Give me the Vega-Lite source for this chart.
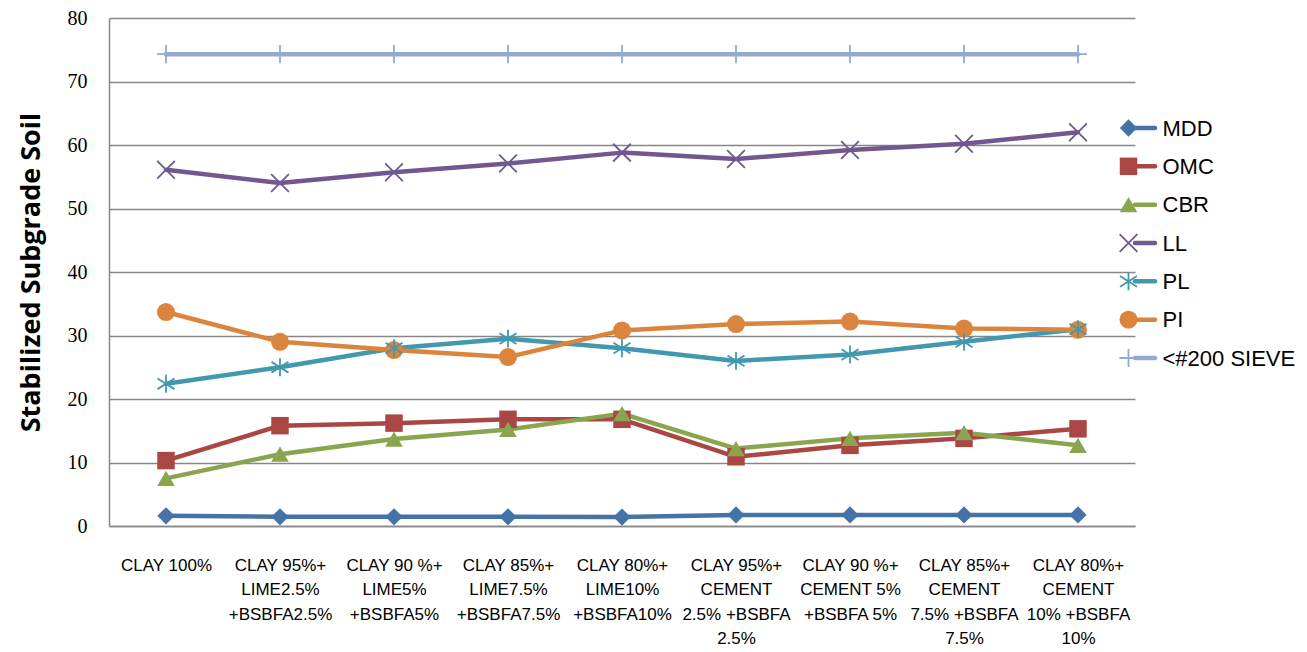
{
  "$schema": "https://vega.github.io/schema/vega-lite/v6.json",
  "background": "white",
  "padding": {"left": 17, "top": 8, "right": 0, "bottom": 0},
  "spacing": 0,
  "bounds": "flush",
  "config": {"view": {"stroke": null}},
  "datasets": {
    "main": [
      {"mix": "CLAY 100%", "MDD": 1.6, "OMC": 10.3, "CBR": 7.5, "LL": 56.1, "PL": 22.4, "PI": 33.7, "<#200 SIEVE": 74.3},
      {"mix": "CLAY  95%+|LIME2.5%|+BSBFA2.5%", "MDD": 1.45, "OMC": 15.8, "CBR": 11.3, "LL": 54.0, "PL": 25.0, "PI": 29.0, "<#200 SIEVE": 74.3},
      {"mix": "CLAY  90 %+|LIME5%|+BSBFA5%", "MDD": 1.45, "OMC": 16.2, "CBR": 13.7, "LL": 55.7, "PL": 28.0, "PI": 27.7, "<#200 SIEVE": 74.3},
      {"mix": "CLAY  85%+|LIME7.5%|+BSBFA7.5%", "MDD": 1.45, "OMC": 16.8, "CBR": 15.2, "LL": 57.1, "PL": 29.5, "PI": 26.6, "<#200 SIEVE": 74.3},
      {"mix": "CLAY 80%+|LIME10%|+BSBFA10%", "MDD": 1.4, "OMC": 16.8, "CBR": 17.7, "LL": 58.8, "PL": 28.0, "PI": 30.8, "<#200 SIEVE": 74.3},
      {"mix": "CLAY 95%+|CEMENT|2.5% +BSBFA|2.5%", "MDD": 1.75, "OMC": 10.9, "CBR": 12.2, "LL": 57.8, "PL": 26.0, "PI": 31.8, "<#200 SIEVE": 74.3},
      {"mix": "CLAY 90 %+|CEMENT  5%|+BSBFA 5%", "MDD": 1.75, "OMC": 12.7, "CBR": 13.8, "LL": 59.2, "PL": 27.0, "PI": 32.2, "<#200 SIEVE": 74.3},
      {"mix": "CLAY  85%+|CEMENT|7.5% +BSBFA|7.5%", "MDD": 1.75, "OMC": 13.8, "CBR": 14.7, "LL": 60.2, "PL": 29.0, "PI": 31.1, "<#200 SIEVE": 74.3},
      {"mix": "CLAY  80%+|CEMENT|10% +BSBFA|10%", "MDD": 1.75, "OMC": 15.3, "CBR": 12.7, "LL": 62.0, "PL": 31.0, "PI": 30.9, "<#200 SIEVE": 74.3}
    ],
    "legend": [
      {"series": "MDD"}, {"series": "OMC"}, {"series": "CBR"}, {"series": "LL"},
      {"series": "PL"}, {"series": "PI"}, {"series": "<#200 SIEVE"}
    ]
  },
  "hconcat": [
    {
      "width": 1026,
      "height": 508,
      "data": {"name": "main"},
      "transform": [
        {"fold": ["MDD", "OMC", "CBR", "LL", "PL", "PI", "<#200 SIEVE"], "as": ["series", "value"]}
      ],
      "encoding": {
        "x": {
          "field": "mix", "type": "nominal", "sort": null,
          "scale": {"type": "point", "padding": 0.5},
          "axis": {
            "title": null, "labelAngle": 0, "ticks": false,
            "labelExpr": "split(datum.value, '|')",
            "labelFont": "Liberation Sans Narrow, Liberation Sans", "labelFontSize": 17,
            "labelColor": "#000000", "labelLineHeight": 24.5, "labelPadding": 31,
            "labelOverlap": false, "labelLimit": 300,
            "domainColor": "#878787", "domainWidth": 1.5
          }
        },
        "y": {
          "field": "value", "type": "quantitative",
          "scale": {"domain": [0, 80], "nice": false},
          "axis": {
            "title": "Stabilized Subgrade  Soil",
            "titleFont": "Open Sans", "titleFontSize": 27, "titleFontWeight": "bold",
            "titleColor": "#000000", "titlePadding": 22,
            "values": [0, 10, 20, 30, 40, 50, 60, 70, 80],
            "ticks": false, "labelPadding": 22,
            "labelFont": "Liberation Serif", "labelFontSize": 20, "labelColor": "#000000",
            "grid": true, "gridColor": "#878787", "gridWidth": 1.5,
            "domainColor": "#878787", "domainWidth": 1.5
          }
        },
        "color": {
          "field": "series", "type": "nominal", "legend": null,
          "scale": {
            "domain": ["MDD", "OMC", "CBR", "LL", "PL", "PI", "<#200 SIEVE"],
            "range": ["#4572A7", "#AA4643", "#89A54E", "#71588F", "#4198AF", "#DB843D", "#93A9CF"]
          }
        }
      },
      "layer": [
        {
          "mark": {"type": "line", "strokeWidth": 4.5, "strokeJoin": "round", "strokeCap": "round"},
          "encoding": {"detail": {"field": "series"}}
        },
        {
          "transform": [{"filter": {"field": "series", "oneOf": ["MDD", "OMC", "CBR", "PI"]}}],
          "mark": {"type": "point", "filled": true, "opacity": 1},
          "encoding": {
            "shape": {"field": "series", "type": "nominal", "legend": null,
              "scale": {"domain": ["MDD", "OMC", "CBR", "LL", "PL", "PI", "<#200 SIEVE"],
                "range": ["diamond", "square", "triangle-up", "M-1,-1L1,1M-1,1L1,-1", "M-0.95,-0.6L0.95,0.6M-0.95,0.6L0.95,-0.6M0,-1L0,1", "circle", "M0,-1L0,1M-1,0L1,0"]}},
            "size": {"field": "series", "type": "nominal", "legend": null,
              "scale": {"domain": ["MDD", "OMC", "CBR", "LL", "PL", "PI", "<#200 SIEVE"],
                "range": [300, 330, 300, 330, 340, 420, 360]}}
          }
        },
        {
          "transform": [{"filter": {"field": "series", "oneOf": ["LL", "PL", "<#200 SIEVE"]}}],
          "mark": {"type": "point", "filled": false, "strokeWidth": 1.8, "opacity": 1},
          "encoding": {
            "shape": {"field": "series", "type": "nominal", "legend": null,
              "scale": {"domain": ["MDD", "OMC", "CBR", "LL", "PL", "PI", "<#200 SIEVE"],
                "range": ["diamond", "square", "triangle-up", "M-1,-1L1,1M-1,1L1,-1", "M-0.95,-0.6L0.95,0.6M-0.95,0.6L0.95,-0.6M0,-1L0,1", "circle", "M0,-1L0,1M-1,0L1,0"]}},
            "size": {"field": "series", "type": "nominal", "legend": null,
              "scale": {"domain": ["MDD", "OMC", "CBR", "LL", "PL", "PI", "<#200 SIEVE"],
                "range": [300, 330, 300, 330, 340, 420, 360]}}
          }
        }
      ]
    },
    {
      "width": 53,
      "height": 508,
      "data": {"name": "legend"},
      "encoding": {
        "y": {
          "field": "series", "type": "nominal", "sort": null,
          "scale": {"type": "point", "padding": 0, "range": [110, 340]},
          "axis": {
            "orient": "right", "title": null, "domain": false, "ticks": false,
            "labelFont": "Liberation Sans", "labelFontSize": 22, "labelColor": "#000000",
            "labelPadding": -26, "labelLimit": 300
          }
        },
        "color": {
          "field": "series", "type": "nominal", "legend": null,
          "scale": {
            "domain": ["MDD", "OMC", "CBR", "LL", "PL", "PI", "<#200 SIEVE"],
            "range": ["#4572A7", "#AA4643", "#89A54E", "#71588F", "#4198AF", "#DB843D", "#93A9CF"]
          }
        }
      },
      "layer": [
        {"mark": {"type": "rule", "strokeWidth": 4.5, "strokeCap": "round", "xOffset": -33, "x2Offset": -33}},
        {
          "transform": [{"filter": {"field": "series", "oneOf": ["MDD", "OMC", "CBR", "PI"]}}],
          "mark": {"type": "point", "filled": true, "opacity": 1, "xOffset": -33},
          "encoding": {
            "shape": {"field": "series", "type": "nominal", "legend": null,
              "scale": {"domain": ["MDD", "OMC", "CBR", "LL", "PL", "PI", "<#200 SIEVE"],
                "range": ["diamond", "square", "triangle-up", "M-1,-1L1,1M-1,1L1,-1", "M-0.95,-0.6L0.95,0.6M-0.95,0.6L0.95,-0.6M0,-1L0,1", "circle", "M0,-1L0,1M-1,0L1,0"]}},
            "size": {"field": "series", "type": "nominal", "legend": null,
              "scale": {"domain": ["MDD", "OMC", "CBR", "LL", "PL", "PI", "<#200 SIEVE"],
                "range": [300, 330, 300, 330, 340, 420, 360]}}
          }
        },
        {
          "transform": [{"filter": {"field": "series", "oneOf": ["LL", "PL", "<#200 SIEVE"]}}],
          "mark": {"type": "point", "filled": false, "strokeWidth": 1.8, "opacity": 1, "xOffset": -33},
          "encoding": {
            "shape": {"field": "series", "type": "nominal", "legend": null,
              "scale": {"domain": ["MDD", "OMC", "CBR", "LL", "PL", "PI", "<#200 SIEVE"],
                "range": ["diamond", "square", "triangle-up", "M-1,-1L1,1M-1,1L1,-1", "M-0.95,-0.6L0.95,0.6M-0.95,0.6L0.95,-0.6M0,-1L0,1", "circle", "M0,-1L0,1M-1,0L1,0"]}},
            "size": {"field": "series", "type": "nominal", "legend": null,
              "scale": {"domain": ["MDD", "OMC", "CBR", "LL", "PL", "PI", "<#200 SIEVE"],
                "range": [300, 330, 300, 330, 340, 420, 360]}}
          }
        }
      ]
    }
  ]
}
